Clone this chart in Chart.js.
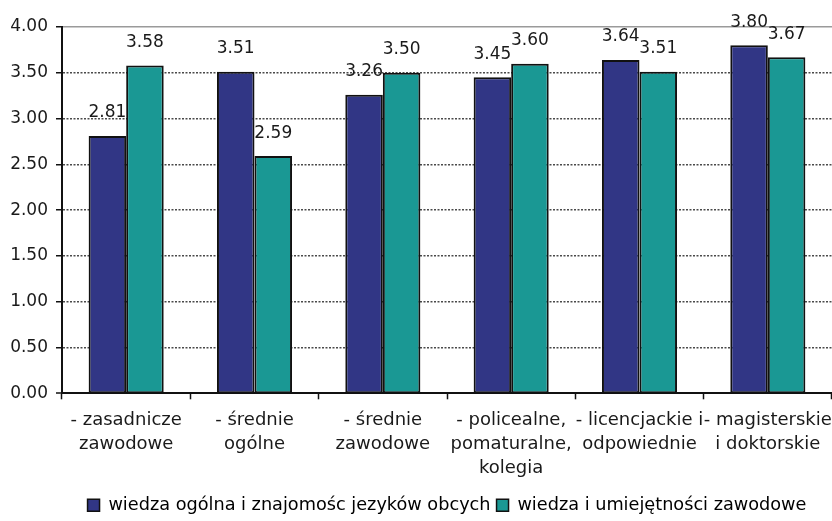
<!DOCTYPE html>
<html>
<head>
<meta charset="utf-8">
<script src="https://cdn.jsdelivr.net/npm/chart.js@4.4.1/dist/chart.umd.min.js"></script>
<style>
  html, body { margin: 0; padding: 0; background: #ffffff; }
  #wrap { width: 832px; height: 521px; }
</style>
</head>
<body>
<div id="wrap"><canvas id="c" width="832" height="521"></canvas></div>
<script>
// Education levels (multi-line axis labels)
const categories = [
  ['- zasadnicze', 'zawodowe'],
  ['- średnie', 'ogólne'],
  ['- średnie', 'zawodowe'],
  ['- policealne,', 'pomaturalne,', 'kolegia'],
  ['- licencjackie i', 'odpowiednie'],
  ['- magisterskie', 'i doktorskie']
];

// Series names
const seriesNames = [
  'wiedza ogólna i znajomośc jezyków obcych',
  'wiedza i umiejętności zawodowe'
];

// Mean ratings per education level
const generalKnowledge = [2.81, 3.51, 3.26, 3.45, 3.64, 3.80];
const professionalSkills = [3.58, 2.59, 3.50, 3.60, 3.51, 3.67];

// Value axis
const yMin = 0;
const yMax = 4;
const yStep = 0.5;

const FONT = '"DejaVu Sans", "Liberation Sans", Arial, sans-serif';

// Value labels printed above each bar
const valueLabels = {
  id: 'valueLabels',
  afterDatasetsDraw(chart) {
    const ctx = chart.ctx;
    ctx.save();
    ctx.font = '17px ' + FONT;
    ctx.fillStyle = '#1a1a1a';
    ctx.textAlign = 'center';
    ctx.textBaseline = 'middle';
    chart.data.datasets.forEach((ds, i) => {
      const meta = chart.getDatasetMeta(i);
      meta.data.forEach((bar, j) => {
        ctx.fillText(ds.data[j].toFixed(2), bar.x, bar.y - 23);
      });
    });
    ctx.restore();
  }
};

new Chart(document.getElementById('c'), {
  type: 'bar',
  data: {
    labels: categories,
    datasets: [
      {
        label: seriesNames[0],
        data: generalKnowledge,
        backgroundColor: '#313685',
        borderColor: '#111111',
        borderWidth: 2,
        borderSkipped: false
      },
      {
        label: seriesNames[1],
        data: professionalSkills,
        backgroundColor: '#1a9894',
        borderColor: '#111111',
        borderWidth: 2,
        borderSkipped: false
      }
    ]
  },
  options: {
    responsive: false,
    devicePixelRatio: 1,
    animation: false,
    layout: { padding: { top: 27, right: 0, left: 0, bottom: -3 } },
    datasets: {
      bar: { categoryPercentage: 0.585, barPercentage: 1.0 }
    },
    plugins: {
      legend: {
        position: 'bottom',
        fullSize: false,
        labels: {
          font: { family: FONT, size: 17.7 },
          color: '#1a1a1a',
          boxWidth: 12,
          boxHeight: 12,
          padding: 6,
          generateLabels(chart) {
            return chart.data.datasets.map((ds, i) => ({
              text: ds.label,
              fillStyle: ds.backgroundColor,
              strokeStyle: '#111111',
              lineWidth: 1.5,
              hidden: false,
              datasetIndex: i
            }));
          }
        }
      },
      tooltip: { enabled: false }
    },
    scales: {
      x: {
        grid: {
          offset: true,
          drawOnChartArea: false,
          drawTicks: true,
          tickLength: 6,
          tickColor: '#111111',
          tickWidth: 1.5
        },
        border: { display: true, color: '#111111', width: 2 },
        ticks: {
          font: { family: FONT, size: 18, lineHeight: 1.33 },
          color: '#1a1a1a',
          padding: 9,
          maxRotation: 0,
          autoSkip: false
        },
        afterFit(scale) {
          scale.height = 97;
          scale.paddingLeft = 0;
          scale.paddingRight = 0;
        }
      },
      y: {
        min: yMin,
        max: yMax,
        ticks: {
          stepSize: yStep,
          font: { family: FONT, size: 17 },
          color: '#1a1a1a',
          padding: 8,
          callback: (v) => Number(v).toFixed(2)
        },
        grid: {
          drawTicks: true,
          tickLength: 6,
          tickColor: '#111111',
          tickWidth: 1.5,
          color: (ctx) => (ctx.tick && ctx.tick.value === yMax) ? '#9a9a9a' : '#4a4a4a',
          lineWidth: (ctx) => (ctx.tick && ctx.tick.value === yMin) ? 0 : 1.5
        },
        border: {
          display: true,
          color: '#111111',
          width: 2,
          dash: (ctx) => (ctx.tick && ctx.tick.value === yMax) ? [] : [2, 1.5]
        },
        afterFit(scale) { scale.width = 62; }
      }
    }
  },
  plugins: [valueLabels]
});
</script>
</body>
</html>
